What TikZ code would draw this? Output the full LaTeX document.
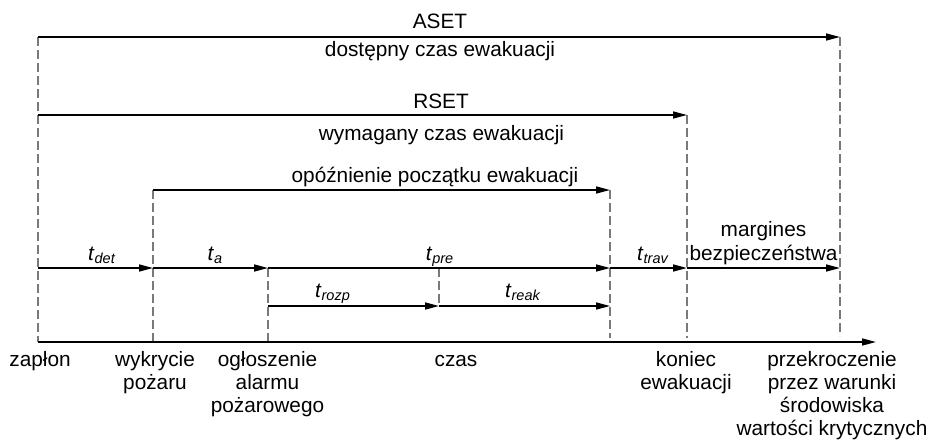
\documentclass[tikz,border=0pt]{standalone}
\usepackage{fontspec}
\setmainfont{Liberation Sans}
\usetikzlibrary{arrows.meta}
\newcommand{\tlab}[1]{\textit{t}\raisebox{-3.5pt}{\fontsize{14.5}{15}\selectfont\itshape #1}}
\tikzset{
  arr/.style={line width=1.6pt,-{Triangle[length=14pt,width=7pt]}},
  axisline/.style={line width=1.6pt,-{Triangle[length=14pt,width=7pt]}},
  guide/.style={draw=gray!95!black,line width=1.3pt,dash pattern=on 9pt off 4pt},
  lab/.style={anchor=base,inner sep=0pt,font=\fontsize{20.8}{23.3}\selectfont,align=center},
}
\begin{document}
\begin{tikzpicture}[x=1pt,y=-1pt]
\useasboundingbox (0,0) rectangle (931,441);
% coordinates
\coordinate (z0) at (38,37);   \coordinate (z1) at (38,342);
\coordinate (w0) at (153,190); \coordinate (w1) at (153,342);
\coordinate (o0) at (268,268); \coordinate (o1) at (268,342);
\coordinate (r0) at (439,268); \coordinate (r1) at (439,306);
\coordinate (p0) at (610,190); \coordinate (p1) at (610,338);
\coordinate (k0) at (687,115); \coordinate (k1) at (687,338);
\coordinate (c0) at (840,37);  \coordinate (c1) at (840,336);
\coordinate (rs0) at (38,115);
\coordinate (z2) at (38,268); \coordinate (w2) at (153,268);
\coordinate (p2) at (610,268); \coordinate (k2) at (687,268); \coordinate (c2) at (840,268);
\coordinate (o3) at (268,306); \coordinate (p3) at (610,306);
\coordinate (ax) at (876,342);
% guides
\draw[guide] (z0) -- (z1);
\draw[guide] (w0) -- (w1);
\draw[guide] (o0) -- (o1);
\draw[guide] (r0) -- (r1);
\draw[guide] (p0) -- (p1);
\draw[guide] (k0) -- (k1);
\draw[guide] (c0) -- (c1);
% arrows
\draw[arr] (z0) -- (c0);
\draw[arr] (rs0) -- (k0);
\draw[arr] (w0) -- (p0);
\draw[arr] (z2) -- (w2);
\draw[arr] (w2) -- (o0);
\draw[arr] (o0) -- (p2);
\draw[arr] (p2) -- (k2);
\draw[arr] (k2) -- (c2);
\draw[arr] (o3) -- (r1);
\draw[arr] (r1) -- (p3);
\draw[axisline] (z1) -- (ax);
% labels (multi-line nodes: base = baseline of last line)
\node[lab] (aset) at (440,29) {ASET};
\node[lab] (asetd) at (440,57) {dostępny czas ewakuacji};
\node[lab] (rset) at (441,109) {RSET};
\node[lab] (rsetd) at (441.5,140) {wymagany czas ewakuacji};
\node[lab] (opoz) at (435,182) {opóźnienie początku ewakuacji};
\node[lab] (tdet) at (101.5,260) {\tlab{det}};
\node[lab] (ta) at (215,260) {\tlab{a}};
\node[lab] (tpre) at (439.5,260) {\tlab{pre}};
\node[lab] (ttrav) at (652.5,260) {\tlab{trav}};
\node[lab] (trozp) at (332.5,297) {\tlab{rozp}};
\node[lab] (treak) at (522.5,297) {\tlab{reak}};
\node[lab] (marg) at (763.5,260) {margines\\bezpieczeństwa};
\node[lab] (zap) at (40,366) {zapłon};
\node[lab] (wyk) at (155,389.3) {wykrycie\\pożaru};
\node[lab] (ogl) at (267.5,412.6) {ogłoszenie\\alarmu\\pożarowego};
\node[lab] (czas) at (456,366) {czas};
\node[lab] (kon) at (686,389.3) {koniec\\ewakuacji};
\node[lab] (prz) at (832,435.9) {przekroczenie\\przez warunki\\środowiska\\wartości krytycznych};
\end{tikzpicture}
\end{document}
